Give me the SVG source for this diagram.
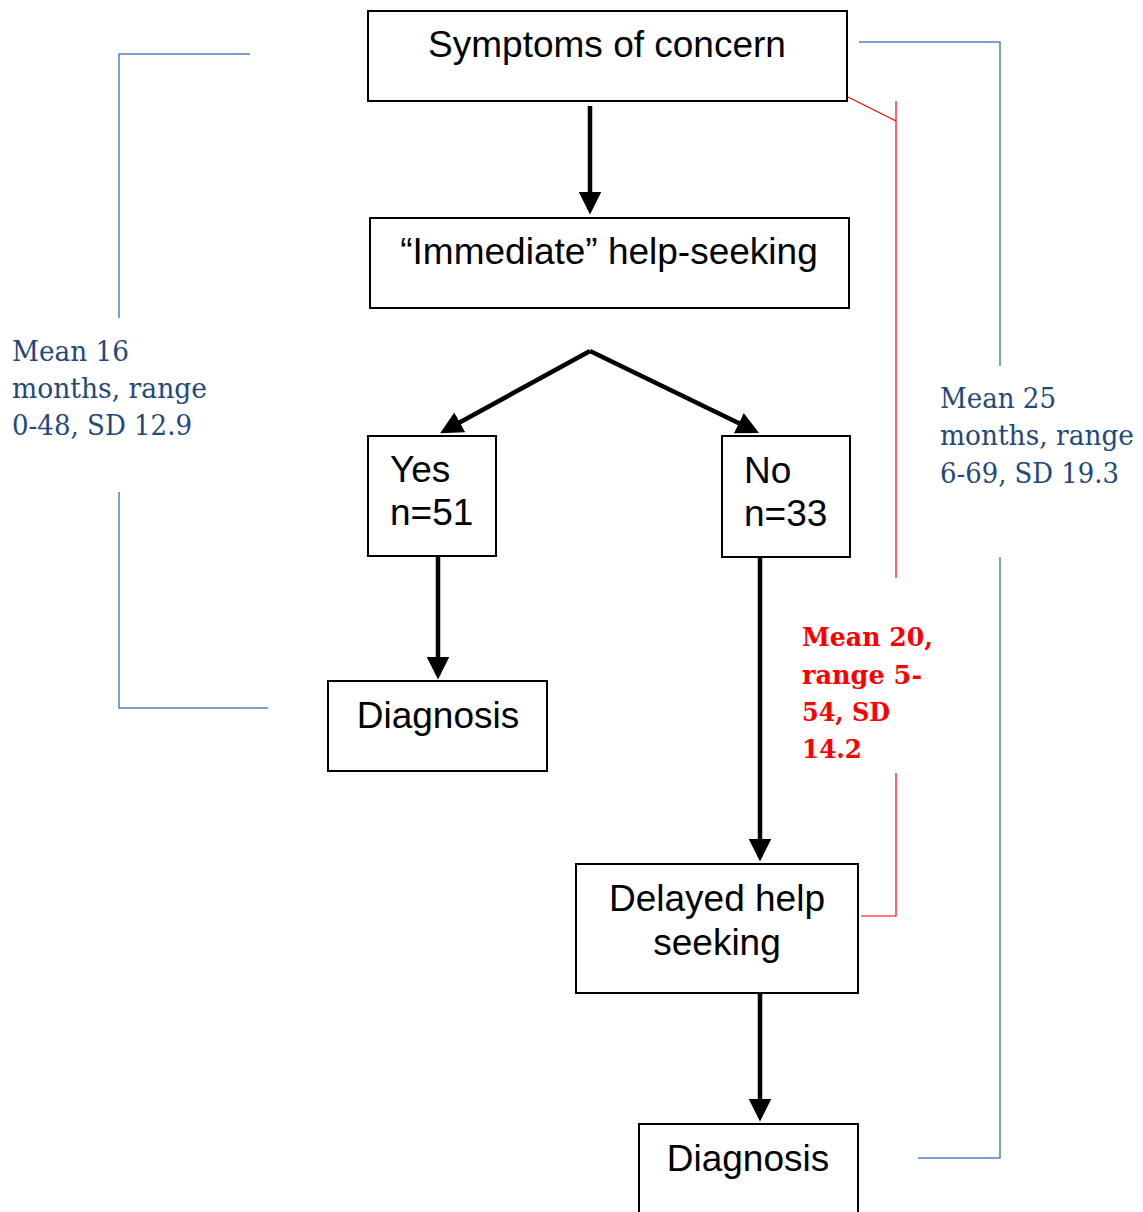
<svg xmlns="http://www.w3.org/2000/svg" width="1143" height="1212" viewBox="0 0 1143 1212">
<style>
.box{fill:#fff;stroke:#000;stroke-width:2}
.t{font-family:"Liberation Sans",Arial,sans-serif;font-size:37px;fill:#000}
.c{text-anchor:middle}
.arr{stroke:#000;stroke-width:4.5;fill:none;marker-end:url(#ah)}
.blue{stroke:#4f81bd;stroke-width:1.5;fill:none}
.red{stroke:#ff0000;stroke-width:1.2;fill:none}
.bt{font-family:"DejaVu Serif","Liberation Serif",serif;font-size:27px;fill:#1f497d}
.rt{font-family:"DejaVu Serif","Liberation Serif",serif;font-size:26px;font-weight:bold;fill:#ff0000}
</style>
<defs>
<marker id="ah" markerWidth="5" markerHeight="5" refX="4" refY="2.5" orient="auto" markerUnits="strokeWidth">
<path d="M0,0 L5,2.5 L0,5 Z" fill="#000"/>
</marker>
</defs>
<rect width="1143" height="1212" fill="#fff"/>
<g id="connectors">
<line class="arr" x1="590" y1="106" x2="590" y2="210"/>
<line class="arr" x1="590" y1="351" x2="444" y2="431"/>
<line class="arr" x1="590" y1="351" x2="755" y2="431"/>
<line class="arr" x1="438" y1="557" x2="438" y2="675"/>
<line class="arr" x1="760" y1="557" x2="760" y2="857"/>
<line class="arr" x1="760" y1="994" x2="760" y2="1117"/>
<polyline class="blue" points="250,54 119,54 119,318"/>
<polyline class="blue" points="119,492 119,708 268,708"/>
<polyline class="blue" points="859,42 1000,42 1000,366"/>
<polyline class="blue" points="1000,557 1000,1158 918,1158"/>
<line class="red" x1="848" y1="97" x2="896" y2="121"/>
<line class="red" x1="896" y1="101" x2="896" y2="578"/>
<polyline class="red" points="896,773 896,916 861,916"/>
</g>
<g id="symptoms"><rect class="box" x="368" y="11" width="479" height="90"/><text class="t c" x="607" y="57">Symptoms of concern</text></g>
<g id="immediate"><rect class="box" x="370" y="218" width="479" height="90"/><text class="t c" x="609" y="264">“Immediate” help-seeking</text></g>
<g id="yes"><rect class="box" x="368" y="436" width="128" height="120"/><text class="t" x="390" y="482">Yes</text><text class="t" x="390" y="525">n=51</text></g>
<g id="no"><rect class="box" x="722" y="436" width="128" height="121"/><text class="t" x="744" y="483">No</text><text class="t" x="744" y="526">n=33</text></g>
<g id="diagnosis1"><rect class="box" x="328" y="681" width="219" height="90"/><text class="t c" x="438" y="728">Diagnosis</text></g>
<g id="delayed"><rect class="box" x="576" y="864" width="282" height="129"/><text class="t c" x="717" y="911">Delayed help</text><text class="t c" x="717" y="955">seeking</text></g>
<g id="diagnosis2"><rect class="box" x="639" y="1124" width="219" height="100"/><text class="t c" x="748" y="1171">Diagnosis</text></g>
<g id="label-left"><text class="bt" x="12" y="361" textLength="117" lengthAdjust="spacingAndGlyphs">Mean 16</text><text class="bt" x="12" y="398" textLength="195" lengthAdjust="spacingAndGlyphs">months, range</text><text class="bt" x="12" y="435" textLength="180" lengthAdjust="spacingAndGlyphs">0-48, SD 12.9</text></g>
<g id="label-right"><text class="bt" x="940" y="408" textLength="116" lengthAdjust="spacingAndGlyphs">Mean 25</text><text class="bt" x="940" y="445" textLength="194" lengthAdjust="spacingAndGlyphs">months, range</text><text class="bt" x="940" y="483" textLength="179" lengthAdjust="spacingAndGlyphs">6-69, SD 19.3</text></g>
<g id="label-red"><text class="rt" x="802" y="646" textLength="131" lengthAdjust="spacingAndGlyphs">Mean 20,</text><text class="rt" x="802" y="684" textLength="120" lengthAdjust="spacingAndGlyphs">range 5-</text><text class="rt" x="802" y="721" textLength="88" lengthAdjust="spacingAndGlyphs">54, SD</text><text class="rt" x="802" y="758" textLength="60" lengthAdjust="spacingAndGlyphs">14.2</text></g>
</svg>
